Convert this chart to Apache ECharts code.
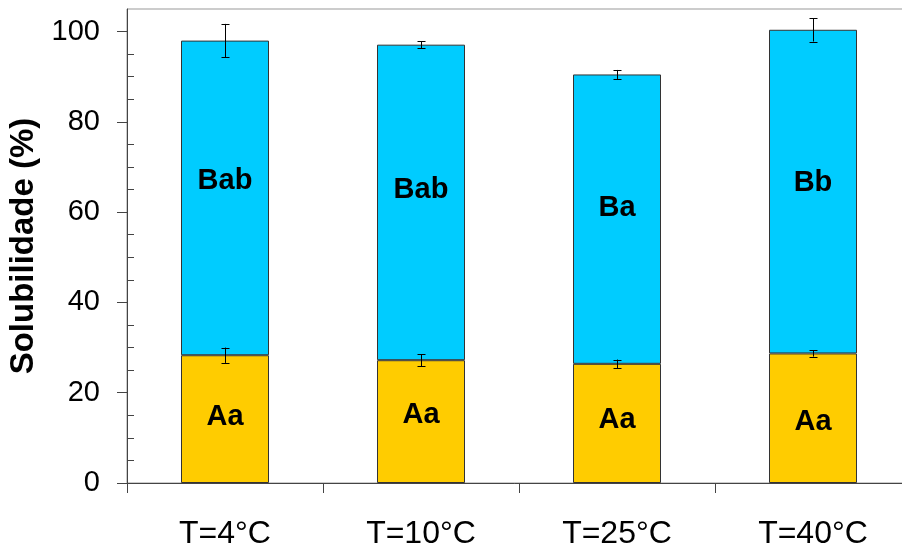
<!DOCTYPE html>
<html><head><meta charset="utf-8">
<script src="https://cdn.jsdelivr.net/npm/echarts@6/dist/echarts.min.js"></script>
<style>html,body{margin:0;padding:0;background:#fff}#c{width:902px;height:548px}</style>
</head><body><div id="c"></div>
<script>
const categories = ['T=4°C', 'T=10°C', 'T=25°C', 'T=40°C'];
const partA = [28.3, 27.2, 26.4, 28.7];
const partAErr = [1.7, 1.35, 0.95, 0.7];
const partB = [69.7, 69.9, 64.1, 71.7];
const totalErr = [3.7, 0.8, 1.0, 2.6];
const lettersA = ['Aa', 'Aa', 'Aa', 'Aa'];
const lettersB = ['Bab', 'Bab', 'Ba', 'Bb'];
const lettersAAt = [14.7, 15.0, 14.0, 13.5];
const lettersBAt = [66.8, 64.8, 61.0, 66.5];
const yTicks = [0, 20, 40, 60, 80, 100];
const yMinorTicks = [5, 10, 15, 25, 30, 35, 45, 50, 55, 65, 70, 75, 85, 90, 95];

const FONT = '"Liberation Sans", Arial, sans-serif';
const totals = partA.map((a, i) => a + partB[i]);

function errRender(params, api) {
  const x = api.value(0), c = api.value(1), e = api.value(2);
  const hi = api.coord([x, c + e]);
  const lo = api.coord([x, c - e]);
  const cx = Math.round(hi[0]) + 0.5;
  const w = 4;
  const style = { stroke: '#000', lineWidth: 1 };
  return {
    type: 'group',
    children: [
      { type: 'line', shape: { x1: cx, y1: hi[1], x2: cx, y2: lo[1] }, style },
      { type: 'line', shape: { x1: cx - w, y1: Math.round(hi[1]) + 0.5, x2: cx + w, y2: Math.round(hi[1]) + 0.5 }, style },
      { type: 'line', shape: { x1: cx - w, y1: Math.round(lo[1]) + 0.5, x2: cx + w, y2: Math.round(lo[1]) + 0.5 }, style }
    ]
  };
}

const chart = echarts.init(document.getElementById('c'), null, { renderer: 'canvas' });
chart.setOption({
  animation: false,
  backgroundColor: '#fff',
  grid: { left: 127, width: 784, top: 9, bottom: 65, outerBoundsMode: 'none', containLabel: false, show: true, borderColor: '#999', borderWidth: 1, backgroundColor: 'transparent' },
  xAxis: {
    type: 'category',
    data: categories,
    boundaryGap: true,
    axisLine: { lineStyle: { color: '#444', width: 1 } },
    axisTick: { show: true, length: 10, alignWithLabel: false, lineStyle: { color: '#444' } },
    axisLabel: { fontSize: 32, fontFamily: FONT, color: '#000', margin: 35 },
    splitLine: { show: false }
  },
  yAxis: [
    {
      type: 'value', min: 0, max: 105,
      name: 'Solubilidade (%)', nameLocation: 'middle', nameGap: 87, nameMoveOverlap: false,
      nameTextStyle: { fontSize: 33, fontWeight: 'bold', fontFamily: FONT, color: '#000' },
      axisLine: { show: true, lineStyle: { color: '#444', width: 1 } },
      axisTick: { show: true, length: 10, inside: false, customValues: yTicks, lineStyle: { color: '#444' } },
      axisLabel: { customValues: yTicks, fontSize: 29, fontFamily: FONT, color: '#000', margin: 27 },
      splitLine: { show: false }
    },
    {
      type: 'value', min: 0, max: 105, position: 'left',
      axisLine: { show: false },
      axisTick: { show: true, inside: true, length: 7, customValues: yMinorTicks, lineStyle: { color: '#444' } },
      axisLabel: { show: false },
      splitLine: { show: false }
    }
  ],
  series: [
    {
      type: 'bar', stack: 'sol', data: partA, barWidth: 88, yAxisIndex: 0,
      itemStyle: { color: '#FFCC00', borderColor: '#333', borderWidth: 1 }
    },
    {
      type: 'bar', stack: 'sol', data: partB, barWidth: 88, yAxisIndex: 0,
      itemStyle: { color: '#00CCFF', borderColor: '#333', borderWidth: 1 }
    },
    {
      type: 'custom', renderItem: errRender, yAxisIndex: 0, z: 10,
      data: partA.map((a, i) => [i, a, partAErr[i]])
    },
    {
      type: 'custom', renderItem: errRender, yAxisIndex: 0, z: 10,
      data: totals.map((t, i) => [i, t, totalErr[i]])
    },
    {
      type: 'scatter', yAxisIndex: 0, symbolSize: 1, z: 11,
      itemStyle: { color: 'rgba(0,0,0,0)', opacity: 1 },
      label: { show: true, position: 'inside', formatter: '{b}', fontSize: 29, fontWeight: 'bold', fontFamily: FONT, color: '#000', textBorderWidth: 0, opacity: 1 },
      data: lettersA.map((t, i) => ({ name: t, value: [i, lettersAAt[i]] }))
        .concat(lettersB.map((t, i) => ({ name: t, value: [i, lettersBAt[i]] })))
    }
  ]
});
</script>
</body></html>
